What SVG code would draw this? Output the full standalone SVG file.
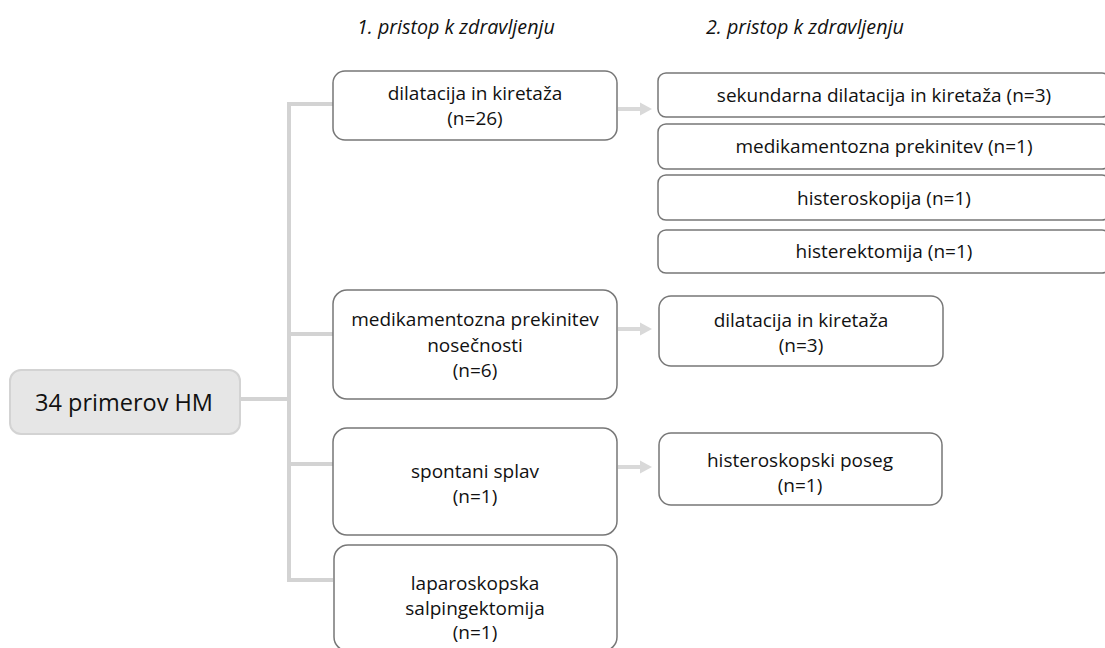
<svg xmlns="http://www.w3.org/2000/svg" width="1105" height="648" viewBox="0 0 1105 648">
<defs>
<style>
.box{fill:#ffffff;stroke:#777777;stroke-width:1.5}
.root{fill:#e6e6e6;stroke:#d3d3d3;stroke-width:2}
.t{font-family:"Open Sans","Liberation Sans",sans-serif;font-size:19px;fill:#111;text-anchor:middle}
.rt{font-family:"Open Sans","Liberation Sans",sans-serif;font-size:23.5px;fill:#111;text-anchor:middle}
.h{font-family:"Open Sans","Liberation Sans",sans-serif;font-size:19.7px;font-style:italic;fill:#111}
.ln{fill:none;stroke:#d3d3d3;stroke-width:4}
.ar{fill:none;stroke:#d9d9d9;stroke-width:4}
</style>
<marker id="ah" markerWidth="4" markerHeight="4" refX="0" refY="2" orient="auto" markerUnits="strokeWidth">
<path d="M0,0.4 L3,2 L0,3.6 Z" fill="#d9d9d9"/>
</marker>
</defs>
<rect width="1105" height="648" fill="#ffffff"/>
<text class="h" x="357" y="34">1. pristop k zdravljenju</text>
<text class="h" x="706" y="34">2. pristop k zdravljenju</text>
<g id="connectors">
<path class="ln" d="M240,399 H289"/>
<path class="ln" d="M333,104 H289 V580 H333"/>
<path class="ln" d="M289,334 H333"/>
<path class="ln" d="M289,464 H333"/>
<path class="ar" d="M618,109 H640" marker-end="url(#ah)"/>
<path class="ar" d="M618,329 H640" marker-end="url(#ah)"/>
<path class="ar" d="M618,467 H640" marker-end="url(#ah)"/>
</g>
<g id="root">
<rect class="root" x="10" y="370" width="230" height="64" rx="11"/>
<text class="rt" x="124" y="411">34 primerov HM</text>
</g>
<g id="n1">
<rect class="box" x="333" y="71" width="284" height="69" rx="12"/>
<text class="t" x="475" y="100">dilatacija in kiretaža</text>
<text class="t" x="475" y="125">(n=26)</text>
</g>
<g id="n2">
<rect class="box" x="333" y="290" width="284" height="109" rx="14"/>
<text class="t" x="475" y="326">medikamentozna prekinitev</text>
<text class="t" x="475" y="352">nosečnosti</text>
<text class="t" x="475" y="377">(n=6)</text>
</g>
<g id="n3">
<rect class="box" x="333" y="428" width="284" height="107" rx="14"/>
<text class="t" x="475" y="478">spontani splav</text>
<text class="t" x="475" y="503">(n=1)</text>
</g>
<g id="n4">
<rect class="box" x="334" y="545" width="283" height="106" rx="14"/>
<text class="t" x="475" y="590">laparoskopska</text>
<text class="t" x="475" y="615">salpingektomija</text>
<text class="t" x="475" y="639">(n=1)</text>
</g>
<g id="a1">
<rect class="box" x="658" y="73" width="452" height="44" rx="8"/>
<text class="t" x="884" y="102">sekundarna dilatacija in kiretaža (n=3)</text>
</g>
<g id="a2">
<rect class="box" x="658" y="124" width="452" height="45" rx="8"/>
<text class="t" x="884" y="153">medikamentozna prekinitev (n=1)</text>
</g>
<g id="a3">
<rect class="box" x="658" y="175" width="452" height="45" rx="8"/>
<text class="t" x="884" y="205">histeroskopija (n=1)</text>
</g>
<g id="a4">
<rect class="box" x="658" y="230" width="452" height="43" rx="8"/>
<text class="t" x="884" y="258">histerektomija (n=1)</text>
</g>
<g id="b1">
<rect class="box" x="659" y="296" width="284" height="70" rx="12"/>
<text class="t" x="801" y="327">dilatacija in kiretaža</text>
<text class="t" x="801" y="352">(n=3)</text>
</g>
<g id="c1">
<rect class="box" x="659" y="433" width="283" height="72" rx="12"/>
<text class="t" x="800" y="467">histeroskopski poseg</text>
<text class="t" x="800" y="492">(n=1)</text>
</g>
</svg>
